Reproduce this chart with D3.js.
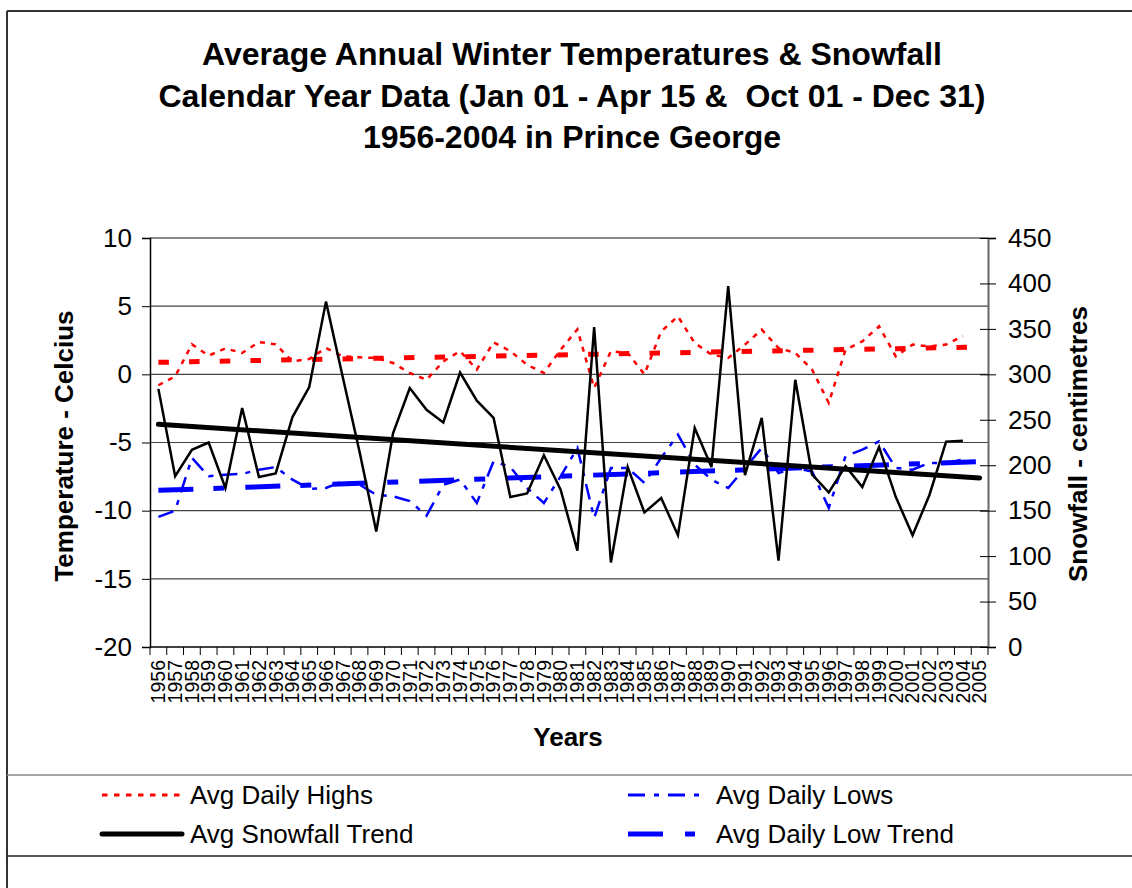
<!DOCTYPE html>
<html>
<head>
<meta charset="utf-8">
<script src="https://cdn.jsdelivr.net/npm/d3@7"></script>
<style>
  body { margin: 0; background: #fff; }
  svg { display: block; font-family: Arial, "Liberation Sans", sans-serif; }
</style>
</head>
<body>
<div id="chart"></div>
<script>
// values, 1956 - 2004
const years = [1956,1957,1958,1959,1960,1961,1962,1963,1964,1965,1966,1967,1968,1969,1970,
  1971,1972,1973,1974,1975,1976,1977,1978,1979,1980,1981,1982,1983,1984,1985,1986,1987,1988,
  1989,1990,1991,1992,1993,1994,1995,1996,1997,1998,1999,2000,2001,2002,2003,2004,2005];

const avgHighs = [-0.8,-0.15,2.2,1.37,1.9,1.57,2.37,2.2,0.95,1.13,1.93,1.32,1.25,1.2,0.83,0.1,-0.4,
  0.95,1.7,0.35,2.35,1.7,0.7,0.1,1.8,3.3,-1.0,1.7,1.57,0,3.15,4.25,2.3,
  1.45,1.2,2.18,3.28,1.93,1.57,0.35,-2.1,1.8,2.42,3.52,1.32,2.18,2.05,2.18,2.8];

const avgLows = [-10.46,-10.0,-6.13,-7.48,-7.36,-7.3,-7.0,-6.8,-7.72,-8.4,-8.33,-7.85,-8.1,-8.83,-8.95,-9.3,-10.37,
  -8.1,-7.72,-9.44,-6.38,-6.8,-8.34,-9.44,-7.48,-5.4,-10.54,-6.87,-6.87,-7.97,-6.13,-4.42,-6.62,
  -7.72,-8.34,-6.87,-5.4,-7.24,-6.87,-7.12,-9.8,-6.0,-5.52,-4.92,-6.87,-7.0,-6.5,-6.5,-6.26];

const snowfall = [284,188,217,225,175,263,187,191,253,286,380,297,215,127,235,285,261,
  247,302,271,252,165,169,211,173,106,352,93,198,148,164,123,241,
  198,397,189,252,95,294,190,170,199,176,220,165,123,167,226,227];

// trend lines, end points read at 1956 and 2005
const trendYears = [1956, 2005];
const highTrend = [0.88, 2.0];
const lowTrend = [-8.51, -6.40];
const snowTrend = [245, 186];

const tempTicks = [-20,-15,-10,-5,0,5,10];
const snowTicks = [0,50,100,150,200,250,300,350,400,450];

const width = 1132, height = 888;
const plot = {left: 150, right: 988, top: 238, bottom: 647};

const svg = d3.select("#chart").append("svg")
  .attr("width", width)
  .attr("height", height);

// chart frame
svg.append("line").attr("x1", 7).attr("x2", width).attr("y1", 11).attr("y2", 11)
  .attr("stroke", "#333").attr("stroke-width", 2);
svg.append("line").attr("x1", 7).attr("x2", 7).attr("y1", 11).attr("y2", height)
  .attr("stroke", "#333").attr("stroke-width", 2);

let x = d3.scaleBand()
  .domain(years)
  .range([plot.left, plot.right]);
const cx = d => x(d) + x.bandwidth() / 2;

let yTemp = d3.scaleLinear()
  .domain([-20, 10])
  .range([plot.bottom, plot.top]);

let ySnow = d3.scaleLinear()
  .domain([0, 450])
  .range([plot.bottom, plot.top]);

// gridlines
svg.append("g")
  .selectAll("line")
  .data(tempTicks.slice(1, -1))
  .enter().append("line")
    .attr("x1", plot.left).attr("x2", plot.right)
    .attr("y1", d => yTemp(d)).attr("y2", d => yTemp(d))
    .attr("stroke", "#444").attr("stroke-width", 1.2);

svg.append("line")
  .attr("x1", plot.left).attr("x2", plot.right)
  .attr("y1", yTemp(10)).attr("y2", yTemp(10))
  .attr("stroke", "#888").attr("stroke-width", 2);

// left axis
const leftAxis = svg.append("g")
  .attr("transform", `translate(${plot.left},0)`)
  .call(d3.axisLeft(yTemp).tickValues(tempTicks).tickFormat(d => String(d)).tickSize(8).tickPadding(10));
leftAxis.select(".domain").attr("stroke", "#000").attr("stroke-width", 1.5);
leftAxis.selectAll("text").attr("font-size", "26px").attr("font-family", "Arial, 'Liberation Sans', sans-serif");

// right axis
const rightAxis = svg.append("g")
  .attr("transform", `translate(${plot.right},0)`)
  .call(d3.axisRight(ySnow).tickValues(snowTicks).tickFormat(d => String(d)).tickSize(8).tickPadding(12));
rightAxis.select(".domain").attr("stroke", "#666").attr("stroke-width", 2);
rightAxis.selectAll(".tick line").attr("x1", -8);
rightAxis.selectAll("text").attr("font-size", "26px").attr("font-family", "Arial, 'Liberation Sans', sans-serif");

// bottom axis with ticks between categories
svg.append("line")
  .attr("x1", plot.left).attr("x2", plot.right)
  .attr("y1", plot.bottom).attr("y2", plot.bottom)
  .attr("stroke", "#000").attr("stroke-width", 1.5);

svg.append("g")
  .selectAll("line")
  .data(years.concat([null]))
  .enter().append("line")
    .attr("x1", (d, i) => plot.left + i * x.bandwidth())
    .attr("x2", (d, i) => plot.left + i * x.bandwidth())
    .attr("y1", plot.bottom).attr("y2", plot.bottom + 8)
    .attr("stroke", "#000");

svg.append("g")
  .selectAll("text")
  .data(years)
  .enter().append("text")
    .attr("transform", d => `translate(${cx(d)},660) rotate(-90)`)
    .attr("text-anchor", "end")
    .attr("dy", "0.35em")
    .attr("font-size", "19.5px")
    .text(d => d);

// series
const highPts = avgHighs.map((v, i) => [years[i], v]);
const lowPts = avgLows.map((v, i) => [years[i], v]);
const snowPts = snowfall.map((v, i) => [years[i], v]);

const lineTemp = d3.line().x(d => cx(d[0])).y(d => yTemp(d[1]));
const lineSnow = d3.line().x(d => cx(d[0])).y(d => ySnow(d[1]));

svg.append("path").datum(highPts)
  .attr("d", lineTemp).attr("fill", "none")
  .attr("stroke", "#ff0000").attr("stroke-width", 2.5)
  .attr("stroke-dasharray", "5,6");

svg.append("path").datum(lowPts)
  .attr("d", lineTemp).attr("fill", "none")
  .attr("stroke", "#0000ff").attr("stroke-width", 2.5)
  .attr("stroke-dasharray", "16,8,5,8");

svg.append("path").datum(trendYears.map((yr, i) => [yr, highTrend[i]]))
  .attr("d", lineTemp).attr("fill", "none")
  .attr("stroke", "#ff0000").attr("stroke-width", 5)
  .attr("stroke-dasharray", "10.5,20.2");

svg.append("path").datum(trendYears.map((yr, i) => [yr, lowTrend[i]]))
  .attr("d", lineTemp).attr("fill", "none")
  .attr("stroke", "#0000ff").attr("stroke-width", 5)
  .attr("stroke-dasharray", "35,20,11,21");

svg.append("path").datum(snowPts)
  .attr("d", lineSnow).attr("fill", "none")
  .attr("stroke", "#000").attr("stroke-width", 2.5)
  .attr("stroke-linejoin", "miter");

svg.append("path").datum(trendYears.map((yr, i) => [yr, snowTrend[i]]))
  .attr("d", lineSnow).attr("fill", "none")
  .attr("stroke", "#000").attr("stroke-width", 5)
  .attr("stroke-linecap", "round");

// titles
const titleLines = ["Average Annual Winter Temperatures & Snowfall",
  "Calendar Year Data (Jan 01 - Apr 15 &  Oct 01 - Dec 31)",
  "1956-2004 in Prince George"];

svg.append("g")
  .selectAll("text")
  .data(titleLines)
  .enter().append("text")
    .attr("x", 572)
    .attr("y", (d, i) => 65 + i * 41.5)
    .attr("text-anchor", "middle")
    .attr("font-size", "32px")
    .attr("font-weight", "bold")
    .style("white-space", "pre")
    .text(d => d);

svg.append("text")
  .attr("x", 568).attr("y", 746)
  .attr("text-anchor", "middle")
  .attr("font-size", "26px").attr("font-weight", "bold")
  .text("Years");

svg.append("text")
  .attr("transform", "translate(73,446) rotate(-90)")
  .attr("text-anchor", "middle")
  .attr("font-size", "26px").attr("font-weight", "bold")
  .text("Temperature - Celcius");

svg.append("text")
  .attr("transform", "translate(1087,444) rotate(-90)")
  .attr("text-anchor", "middle")
  .attr("font-size", "26px").attr("font-weight", "bold")
  .text("Snowfall - centimetres");

// legend
svg.append("line").attr("x1", 7).attr("x2", width).attr("y1", 775).attr("y2", 775)
  .attr("stroke", "#888").attr("stroke-width", 1.5);
svg.append("line").attr("x1", 7).attr("x2", width).attr("y1", 856).attr("y2", 856)
  .attr("stroke", "#222").attr("stroke-width", 1.5);

const legendItems = [
  {name: "Avg Daily Highs", x: 102, y: 795, color: "#ff0000", w: 3, dash: "5.5,6.5", cap: "butt"},
  {name: "Avg Daily Lows", x: 628, y: 795, color: "#0000ff", w: 3, dash: "17,9,5,9", cap: "butt"},
  {name: "Avg Snowfall Trend", x: 102, y: 834, color: "#000", w: 5, dash: null, cap: "round"},
  {name: "Avg Daily Low Trend", x: 628, y: 834, color: "#0000ff", w: 5, dash: "35,22,10,30", cap: "butt"}
];

const lg = svg.append("g").selectAll("g")
  .data(legendItems)
  .enter().append("g");

lg.append("line")
  .attr("x1", d => d.x).attr("x2", d => d.x + 80)
  .attr("y1", d => d.y).attr("y2", d => d.y)
  .attr("stroke", d => d.color)
  .attr("stroke-width", d => d.w)
  .attr("stroke-dasharray", d => d.dash)
  .attr("stroke-linecap", d => d.cap);

lg.append("text")
  .attr("x", d => d.x + 88)
  .attr("y", d => d.y)
  .attr("dy", "0.35em")
  .attr("font-size", "26px")
  .text(d => d.name);
</script>
</body>
</html>
